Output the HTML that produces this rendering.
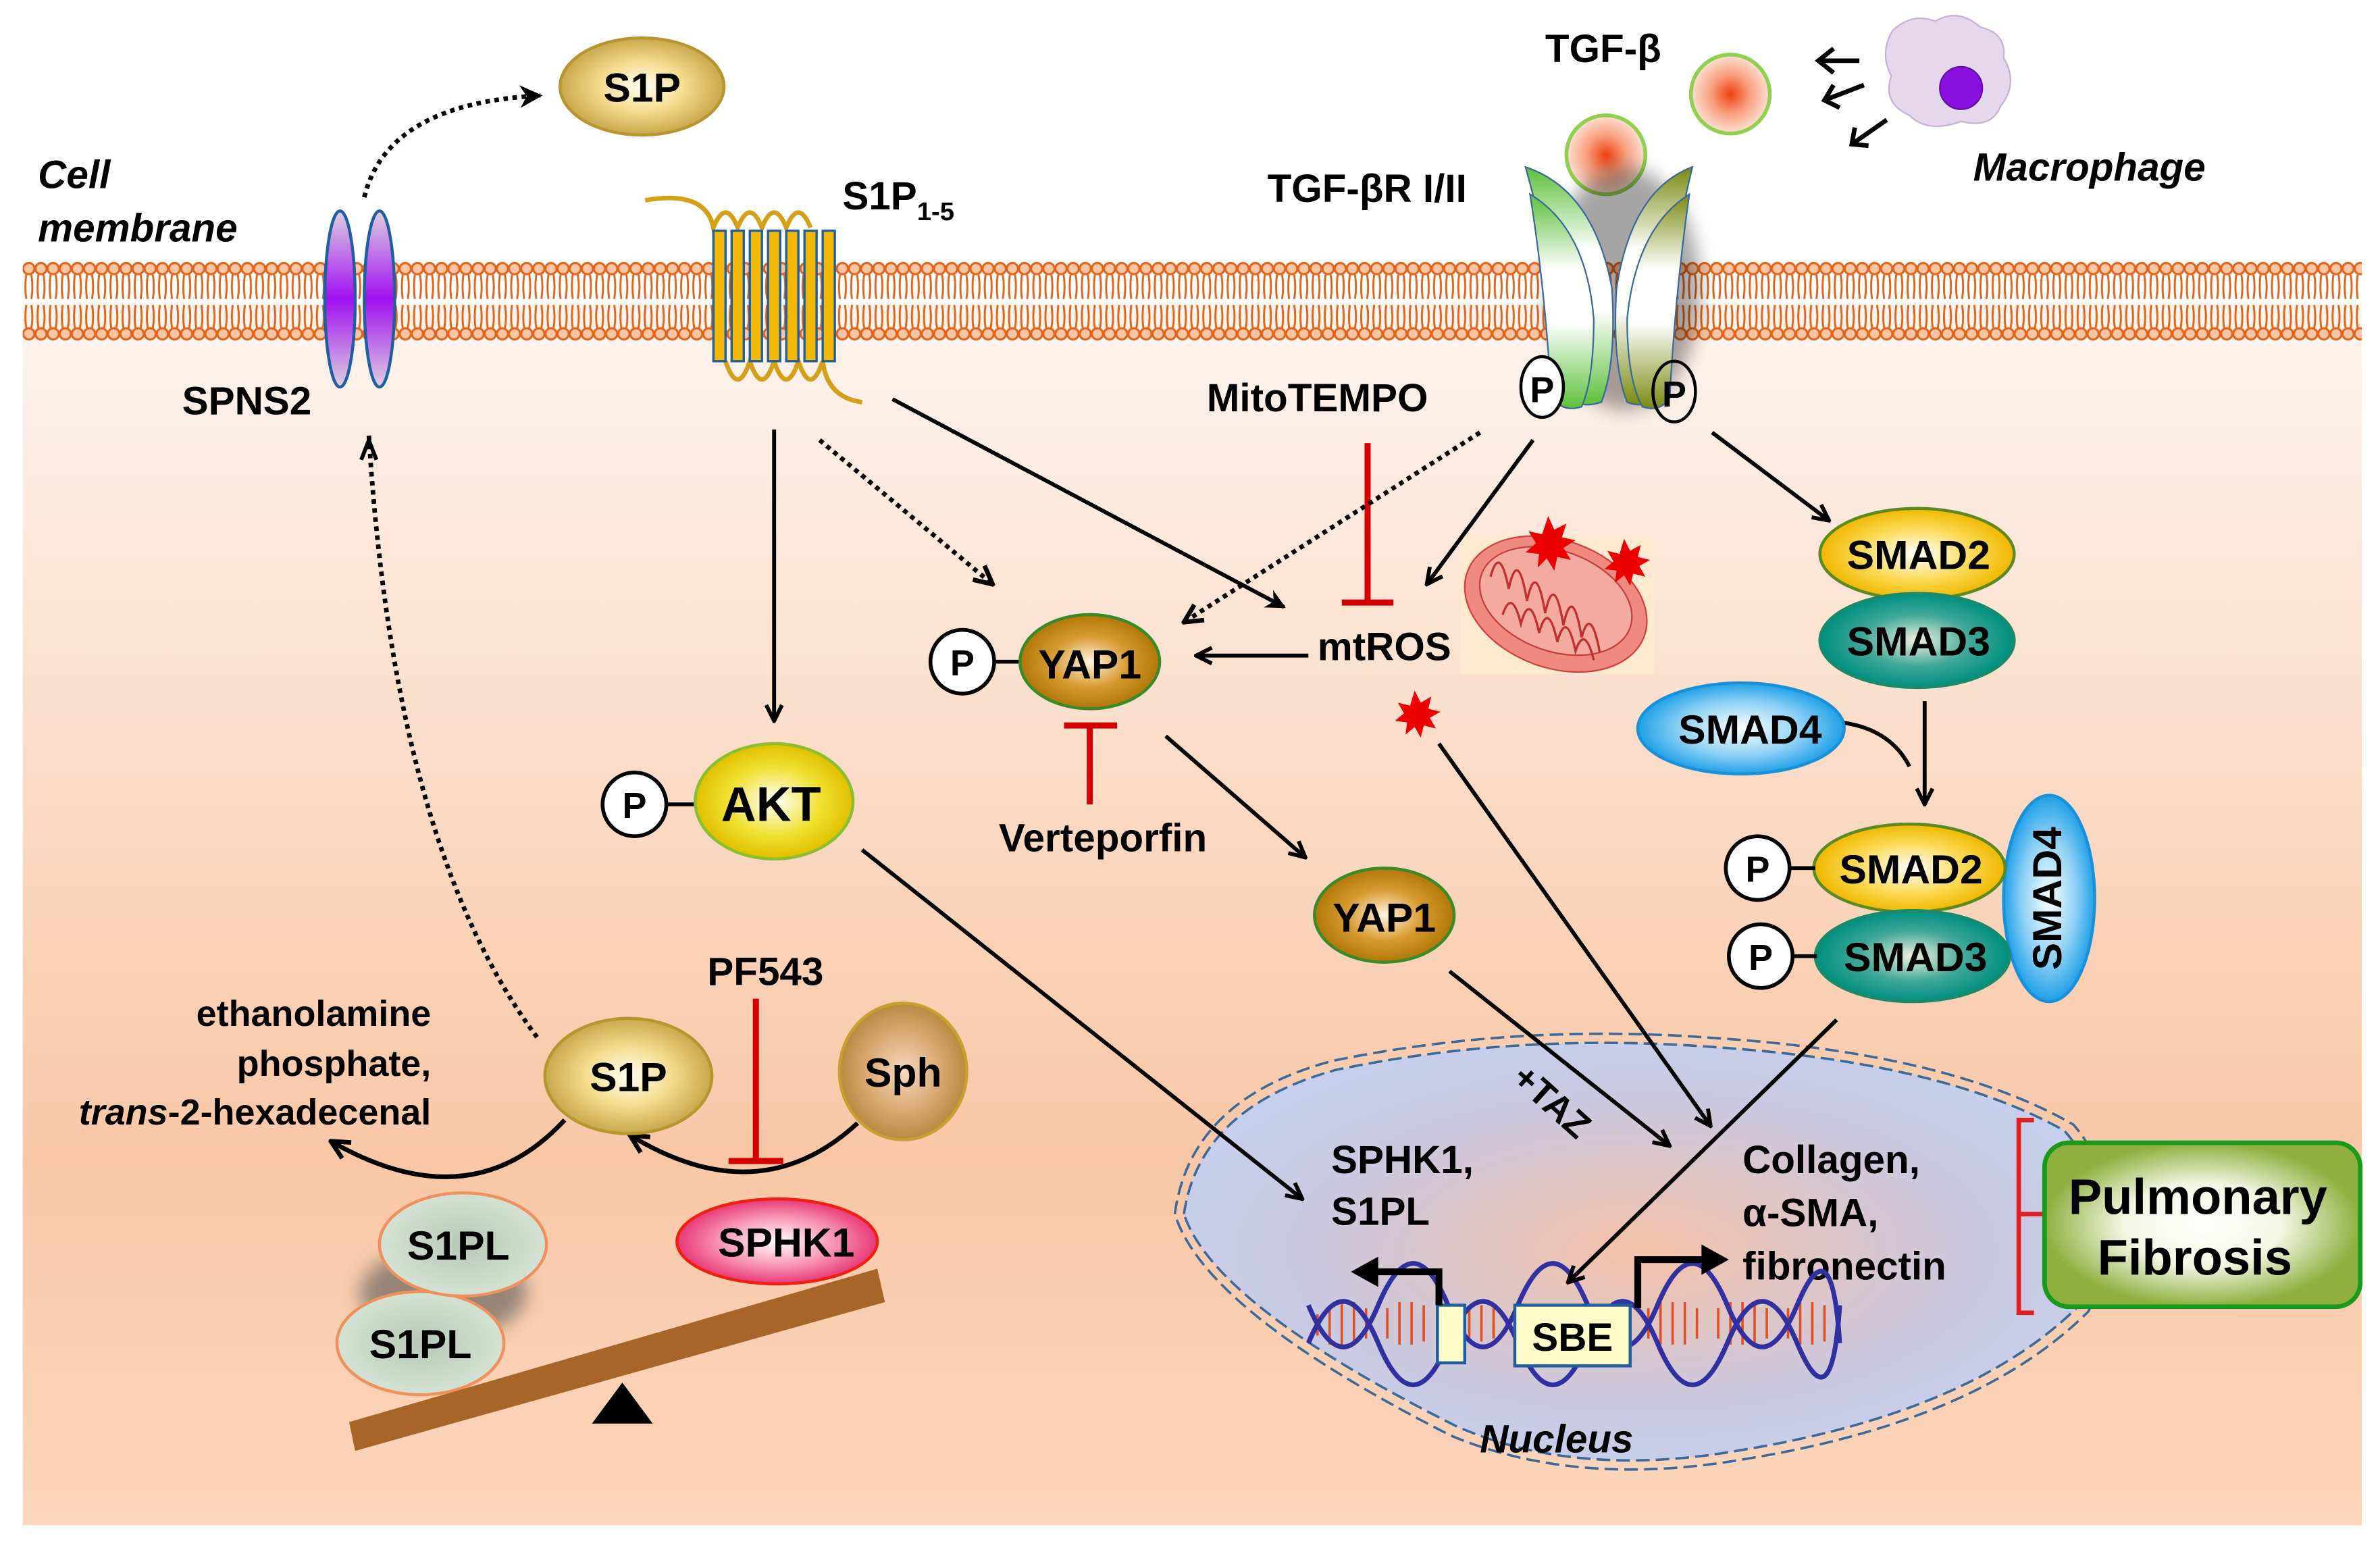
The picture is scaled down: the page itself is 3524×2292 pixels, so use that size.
<!DOCTYPE html>
<html><head><meta charset="utf-8"><style>
html,body{margin:0;padding:0;background:#fff;}
svg{display:block;}
text{font-family:"Liberation Sans",Arial,sans-serif;font-weight:bold;fill:#000;}
</style></head><body>
<svg width="3524" height="2292" viewBox="0 0 1568 1020" preserveAspectRatio="none" xmlns="http://www.w3.org/2000/svg">
<defs>
<linearGradient id="cyto" x1="0" y1="0" x2="0" y2="1">
<stop offset="0" stop-color="#fdf4ef"/><stop offset="0.7" stop-color="#f9c7a6"/><stop offset="1" stop-color="#fcd6bd"/>
</linearGradient>
<pattern id="lip" x="15" y="0" width="8" height="240" patternUnits="userSpaceOnUse">
<path d="M2.3 181 Q1.2 189 2.3 197 M5.7 181 Q7 189 5.7 197" stroke="#e0651c" stroke-width="1.3" fill="none"/>
<path d="M2.3 201 Q1.2 209 2.3 216 M5.7 201 Q7 209 5.7 216" stroke="#e0651c" stroke-width="1.3" fill="none"/>
<circle cx="4" cy="177" r="3.7" fill="#fbc4a2" stroke="#e0651c" stroke-width="1.4"/>
<circle cx="4" cy="220" r="3.7" fill="#fbc4a2" stroke="#e0651c" stroke-width="1.4"/>
</pattern>
<radialGradient id="gold"><stop offset="0" stop-color="#fffef5"/><stop offset="0.5" stop-color="#f5dd90"/><stop offset="1" stop-color="#c9a84c"/></radialGradient>
<radialGradient id="yap"><stop offset="0" stop-color="#fff3e0"/><stop offset="0.55" stop-color="#d89a30"/><stop offset="1" stop-color="#b07808"/></radialGradient>
<radialGradient id="akt"><stop offset="0" stop-color="#ffffff"/><stop offset="0.6" stop-color="#f0e030"/><stop offset="1" stop-color="#e0c000"/></radialGradient>
<radialGradient id="smad2"><stop offset="0" stop-color="#ffffff"/><stop offset="0.6" stop-color="#fbd850"/><stop offset="1" stop-color="#f0b800"/></radialGradient>
<radialGradient id="smad3"><stop offset="0" stop-color="#f0f0e0"/><stop offset="0.55" stop-color="#40a898"/><stop offset="1" stop-color="#008f80"/></radialGradient>
<radialGradient id="smad4"><stop offset="0" stop-color="#ffffff"/><stop offset="0.6" stop-color="#8cd0f5"/><stop offset="1" stop-color="#20a0e8"/></radialGradient>
<radialGradient id="sph"><stop offset="0" stop-color="#f8d8c0"/><stop offset="0.6" stop-color="#d8a870"/><stop offset="1" stop-color="#b88a40"/></radialGradient>
<radialGradient id="sphk"><stop offset="0" stop-color="#ffffff"/><stop offset="0.6" stop-color="#f790b0"/><stop offset="1" stop-color="#e83878"/></radialGradient>
<radialGradient id="s1pl"><stop offset="0" stop-color="#b8c8b8"/><stop offset="1" stop-color="#d4e2d4"/></radialGradient>
<radialGradient id="tgf"><stop offset="0" stop-color="#f04010"/><stop offset="0.5" stop-color="#f8a080"/><stop offset="1" stop-color="#fde0d4"/></radialGradient>
<radialGradient id="nuc" cx="0.5" cy="0.5" r="0.6"><stop offset="0" stop-color="#f5c2a8"/><stop offset="0.6" stop-color="#cbc8e0"/><stop offset="1" stop-color="#c4d2f2"/></radialGradient>
<radialGradient id="pf"><stop offset="0" stop-color="#ffffff"/><stop offset="0.5" stop-color="#f4f6e4"/><stop offset="1" stop-color="#8fb040"/></radialGradient>
<linearGradient id="spns" x1="0" y1="0" x2="0" y2="1"><stop offset="0" stop-color="#ddd0e0"/><stop offset="0.5" stop-color="#a010f0"/><stop offset="1" stop-color="#ddd0e0"/></linearGradient>
<linearGradient id="rg" x1="0" y1="0" x2="0" y2="1"><stop offset="0" stop-color="#5cbf3a"/><stop offset="0.35" stop-color="#ffffff"/><stop offset="0.6" stop-color="#ffffff"/><stop offset="1" stop-color="#5cbf3a"/></linearGradient>
<linearGradient id="ro" x1="0" y1="0" x2="0" y2="1"><stop offset="0" stop-color="#7a8a10"/><stop offset="0.35" stop-color="#ffffff"/><stop offset="0.6" stop-color="#ffffff"/><stop offset="1" stop-color="#7a8a10"/></linearGradient>
<marker id="ah" viewBox="0 0 10 10" refX="9" refY="5" markerWidth="5" markerHeight="5" orient="auto"><path d="M0 0 L10 5 L0 10 L3 5z" fill="#000"/></marker>
<marker id="ao" viewBox="0 0 10 10" refX="9" refY="5" markerWidth="5" markerHeight="5" orient="auto"><path d="M1 1 L9 5 L1 9" fill="none" stroke="#000" stroke-width="2"/></marker>
<filter id="blur"><feGaussianBlur stdDeviation="6"/></filter>
</defs>
<rect width="1568" height="1020" fill="#fff"/>
<rect x="15" y="200" width="1541" height="805" fill="url(#cyto)"/>
<rect x="15" y="165" width="1541" height="65" fill="url(#lip)"/>

<!-- Nucleus (behind arrows) -->
<path d="M780 800 Q790 730 880 705 Q1000 680 1130 690 Q1280 700 1360 745 Q1400 790 1370 860 Q1300 930 1150 955 Q1040 975 960 940 Q800 860 780 800z" fill="url(#nuc)" stroke="#3a6a9a" stroke-width="1.6" stroke-dasharray="9 4"/>
<path d="M774 800 Q784 724 878 699 Q1000 674 1130 684 Q1284 694 1366 741 Q1408 790 1376 864 Q1304 936 1152 961 Q1040 981 956 946 Q794 864 774 800z" fill="none" stroke="#3a6a9a" stroke-width="1.6" stroke-dasharray="9 4"/>

<!-- top S1P -->
<ellipse cx="423" cy="57" rx="54" ry="32" fill="url(#gold)" stroke="#b8962e" stroke-width="2"/>
<text x="423" y="67" font-size="27" text-anchor="middle">S1P</text>
<path d="M240 130 Q255 68 356 63" fill="none" stroke="#000" stroke-width="3" stroke-dasharray="3 3" marker-end="url(#ah)"/>
<text x="25" y="124" font-size="26" font-style="italic">Cell</text>
<text x="25" y="159" font-size="26" font-style="italic">membrane</text>

<!-- SPNS2 -->
<ellipse cx="224" cy="197" rx="10" ry="58" fill="url(#spns)" stroke="#1f5f9f" stroke-width="2"/>
<ellipse cx="250" cy="197" rx="10" ry="58" fill="url(#spns)" stroke="#1f5f9f" stroke-width="2"/>
<text x="120" y="273" font-size="26">SPNS2</text>

<!-- S1P receptor -->
<path d="M425 132 Q465 125 470 150 Q478 130 486 150 Q494 130 502 150 Q510 130 518 150 Q526 130 534 150" fill="none" stroke="#d4a017" stroke-width="3"/>
<path d="M478 238 Q486 262 494 238 Q502 262 510 238 Q518 262 526 238 Q534 262 542 238 Q545 262 568 265" fill="none" stroke="#d4a017" stroke-width="3"/>
<g fill="#f5b800" stroke="#1f5f9f" stroke-width="1.5">
<rect x="470" y="152" width="8" height="86"/><rect x="482" y="152" width="8" height="86"/><rect x="494" y="152" width="8" height="86"/><rect x="506" y="152" width="8" height="86"/><rect x="518" y="152" width="8" height="86"/><rect x="530" y="152" width="8" height="86"/><rect x="542" y="152" width="8" height="86"/>
</g>
<text x="555" y="138" font-size="26">S1P<tspan font-size="17" dy="7">1-5</tspan></text>

<!-- TGF -->
<text x="1018" y="41" font-size="26">TGF-β</text>
<circle cx="1140" cy="62" r="26" fill="url(#tgf)" stroke="#8fd14f" stroke-width="2.5"/>
<circle cx="1058" cy="102" r="26" fill="url(#tgf)" stroke="#8fd14f" stroke-width="2.5"/>
<path d="M1247 20 Q1260 8 1275 14 Q1290 5 1305 18 Q1322 22 1320 38 Q1330 55 1318 70 Q1312 85 1292 80 Q1270 88 1258 76 Q1240 68 1246 50 Q1238 35 1247 20z" fill="#e6d8ec" stroke="#c8b0d8"/>
<circle cx="1292" cy="58" r="14" fill="#8a10e0" stroke="#6010a0"/>
<g stroke="#000" stroke-width="3" fill="none">
<path d="M1225 40 L1198 40 M1208 32 L1198 40 L1208 48"/>
<path d="M1228 56 L1202 66 M1208 56 L1202 66 L1212 71"/>
<path d="M1243 79 L1220 95 M1222 84 L1220 95 L1231 96"/>
</g>
<text x="1300" y="119" font-size="26" font-style="italic">Macrophage</text>
<text x="835" y="133" font-size="26">TGF-βR I/II</text>
<!-- receptor -->
<ellipse cx="1070" cy="190" rx="50" ry="80" fill="#000" opacity="0.35" filter="url(#blur)"/>
<path d="M1005 110 Q1050 125 1062 190 Q1065 240 1055 265 Q1040 270 1030 260 Q1025 180 1005 110z" fill="url(#rg)" stroke="#3a6a9a"/>
<path d="M1008 128 Q1045 150 1050 210 Q1050 250 1042 268 Q1030 272 1022 262 Q1018 190 1008 128z" fill="url(#rg)" stroke="#3a6a9a"/>
<path d="M1115 110 Q1075 125 1065 190 Q1062 240 1072 265 Q1085 270 1092 260 Q1098 180 1115 110z" fill="url(#ro)" stroke="#3a6a9a"/>
<path d="M1113 128 Q1078 150 1072 210 Q1072 250 1082 268 Q1094 272 1100 262 Q1104 190 1113 128z" fill="url(#ro)" stroke="#3a6a9a"/>
<ellipse cx="1016" cy="255" rx="14" ry="20" fill="#fff" stroke="#000" stroke-width="2"/>
<text x="1016" y="265" font-size="24" text-anchor="middle">P</text>
<ellipse cx="1103" cy="258" rx="14" ry="20" fill="none" stroke="#000" stroke-width="2"/>
<text x="1103" y="268" font-size="24" text-anchor="middle">P</text>

<!-- MitoTEMPO / mtROS -->
<text x="795" y="271" font-size="26">MitoTEMPO</text>
<path d="M901 292 L901 397 M884 397 L918 397" stroke="#d40000" stroke-width="4" fill="none"/>
<text x="868" y="435" font-size="26">mtROS</text>
<rect x="962" y="352" width="128" height="92" fill="#fde8d0"/>
<ellipse cx="1025" cy="398" rx="62" ry="42" transform="rotate(20 1025 398)" fill="#f08a80" stroke="#d04040"/>
<ellipse cx="1025" cy="396" rx="52" ry="33" transform="rotate(20 1025 396)" fill="#f4aaa0" stroke="#c04040"/>
<path d="M982 380 q6 -22 12 8 q6 -28 12 8 q6 -28 12 8 q6 -28 12 8 q6 -28 12 8 q6 -22 12 10 M990 405 q6 -18 12 6 q6 -22 12 6 q6 -22 12 6 q6 -22 12 6 q6 -18 12 6" fill="none" stroke="#c03030" stroke-width="1.5"/>
<g fill="#ee0000">
<path d="M1020 340 l4 9 l8 -4 l-3 9 l9 2 l-8 5 l5 8 l-9 -2 l-2 9 l-5 -8 l-6 6 l1 -9 l-9 -1 l7 -6 l-5 -8 l9 2z"/>
<path d="M1070 355 l4 8 l7 -4 l-2 8 l8 2 l-7 4 l4 7 l-8 -2 l-2 8 l-4 -7 l-6 5 l1 -8 l-8 -1 l6 -5 l-4 -7 l8 2z"/>
<path d="M932 455 l4 8 l7 -4 l-2 8 l8 2 l-7 4 l4 7 l-8 -2 l-2 8 l-4 -7 l-6 5 l1 -8 l-8 -1 l6 -5 l-4 -7 l8 2z"/>
</g>

<!-- nucleus content -->
<text x="877" y="773" font-size="26">SPHK1,</text>
<text x="877" y="807" font-size="26">S1PL</text>
<text x="1148" y="773" font-size="26">Collagen,</text>
<text x="1148" y="808" font-size="26">α-SMA,</text>
<text x="1148" y="843" font-size="26">fibronectin</text>
<text x="975" y="957" font-size="26" font-style="italic">Nucleus</text>
<g stroke="#e05020" stroke-width="1.6">
<path d="M868 866 v14 M876 860 v26 M884 858 v28 M892 858 v28 M900 862 v20 M914 862 v20 M922 858 v28 M930 858 v28 M938 860 v24 M968 862 v20 M976 860 v24 M984 862 v20 M1086 862 v20 M1094 858 v28 M1102 858 v28 M1110 858 v28 M1118 862 v20 M1132 862 v20 M1140 858 v28 M1148 858 v28 M1156 858 v28 M1164 862 v20 M1178 862 v20 M1186 858 v28 M1194 858 v28 M1202 860 v24"/>
</g>
<g fill="none" stroke-width="3.2" stroke="#3030a0">
<path d="M862 885 Q885 830 908 885 T954 885 T1000 885 T1046 885 T1092 885 T1138 885 T1184 885 T1212 860"/>
<path d="M862 860 Q885 915 908 860 T954 860 T1000 860 T1046 860 T1092 860 T1138 860 T1184 860 T1212 885"/>
</g>
<rect x="947" y="860" width="18" height="38" fill="#fdfbc8" stroke="#1f5f9f" stroke-width="2"/>
<rect x="998" y="860" width="76" height="40" fill="#fdfbc8" stroke="#1f5f9f" stroke-width="2"/>
<text x="1036" y="890" font-size="26" text-anchor="middle">SBE</text>
<path d="M948 860 L948 838 L905 838" stroke="#000" stroke-width="4.5" fill="none"/>
<path d="M890 838 L908 828 L908 848z" fill="#000"/>
<path d="M1079 862 L1079 830 L1124 830" stroke="#000" stroke-width="4.5" fill="none"/>
<path d="M1139 830 L1121 820 L1121 840z" fill="#000"/>

<!-- arrows -->
<g stroke="#000" stroke-width="2.6" fill="none">
<path d="M588 263 L846 400" marker-end="url(#ah)"/>
<path d="M540 290 L654 385" stroke-dasharray="3 3" stroke-width="3" marker-end="url(#ao)"/>
<path d="M975 285 L780 410" stroke-dasharray="3 3" stroke-width="3" marker-end="url(#ao)"/>
<path d="M1010 290 L940 385" marker-end="url(#ao)"/>
<path d="M1128 285 L1205 343" marker-end="url(#ao)"/>
<path d="M862 432 L788 432" marker-end="url(#ao)"/>
<path d="M510 283 L510 475" marker-end="url(#ao)"/>
<path d="M768 485 L860 565" marker-end="url(#ao)"/>
<path d="M955 640 L1100 755" marker-end="url(#ao)"/>
<path d="M948 490 L1127 742" marker-end="url(#ao)"/>
<path d="M568 560 L858 790" marker-end="url(#ao)"/>
<path d="M1210 672 L1033 845" marker-end="url(#ao)"/>
<path d="M1268 462 L1268 530" marker-end="url(#ao)"/>
<path d="M1213 476 Q1245 480 1258 505"/>
<path d="M243 287 Q260 560 355 685" stroke-dasharray="3 3" stroke-width="3"/>
<path d="M243 290 L238 303 M243 290 L248 303" />
<path d="M565 740 Q500 800 415 748" stroke-width="3" marker-end="url(#ao)"/>
<path d="M372 738 Q310 805 218 752" stroke-width="3" marker-end="url(#ao)"/>
</g>

<!-- YAP -->
<line x1="656" y1="436" x2="675" y2="436" stroke="#000" stroke-width="2.5"/>
<circle cx="634" cy="436" r="21" fill="#fff" stroke="#000" stroke-width="2.5"/>
<text x="634" y="445" font-size="24" text-anchor="middle">P</text>
<ellipse cx="718" cy="436" rx="46" ry="31" fill="url(#yap)" stroke="#3a8a2a" stroke-width="2"/>
<text x="718" y="447" font-size="27" text-anchor="middle">YAP1</text>
<path d="M718 478 L718 530 M701 478 L736 478" stroke="#d40000" stroke-width="4" fill="none"/>
<text x="658" y="561" font-size="26">Verteporfin</text>
<ellipse cx="912" cy="603" rx="46" ry="31" fill="url(#yap)" stroke="#3a8a2a" stroke-width="2"/>
<text x="912" y="614" font-size="27" text-anchor="middle">YAP1</text>
<text x="995" y="712" font-size="24" transform="rotate(42 995 712)">+TAZ</text>

<!-- AKT -->
<line x1="440" y1="530" x2="460" y2="530" stroke="#000" stroke-width="2.5"/>
<circle cx="418" cy="530" r="21" fill="#fff" stroke="#000" stroke-width="2.5"/>
<text x="418" y="539" font-size="24" text-anchor="middle">P</text>
<ellipse cx="510" cy="528" rx="52" ry="38" fill="url(#akt)" stroke="#8ac030" stroke-width="2"/>
<text x="508" y="541" font-size="32" text-anchor="middle">AKT</text>

<!-- SMADs -->
<ellipse cx="1263" cy="365" rx="64" ry="30" fill="url(#smad2)" stroke="#5a8a20" stroke-width="2"/>
<text x="1264" y="375" font-size="27" text-anchor="middle">SMAD2</text>
<ellipse cx="1263" cy="422" rx="64" ry="31" fill="url(#smad3)" stroke="#1a8a6a" stroke-width="2"/>
<text x="1264" y="432" font-size="27" text-anchor="middle">SMAD3</text>
<ellipse cx="1147" cy="480" rx="68" ry="30" fill="url(#smad4)" stroke="#1a90d8" stroke-width="2"/>
<text x="1153" y="490" font-size="27" text-anchor="middle">SMAD4</text>
<ellipse cx="1350" cy="592" rx="30" ry="68" fill="url(#smad4)" stroke="#1a90d8" stroke-width="2"/>
<text x="1358" y="592" font-size="27" text-anchor="middle" transform="rotate(-90 1358 592)">SMAD4</text>
<ellipse cx="1258" cy="572" rx="63" ry="29" fill="url(#smad2)" stroke="#5a8a20" stroke-width="2"/>
<text x="1259" y="582" font-size="27" text-anchor="middle">SMAD2</text>
<ellipse cx="1260" cy="630" rx="64" ry="30" fill="url(#smad3)" stroke="#1a8a6a" stroke-width="2"/>
<text x="1262" y="640" font-size="27" text-anchor="middle">SMAD3</text>
<line x1="1180" y1="572" x2="1196" y2="572" stroke="#000" stroke-width="2.5"/>
<line x1="1182" y1="630" x2="1197" y2="630" stroke="#000" stroke-width="2.5"/>
<circle cx="1158" cy="572" r="21" fill="#fff" stroke="#000" stroke-width="2.5"/>
<text x="1158" y="581" font-size="24" text-anchor="middle">P</text>
<circle cx="1160" cy="630" r="21" fill="#fff" stroke="#000" stroke-width="2.5"/>
<text x="1160" y="639" font-size="24" text-anchor="middle">P</text>

<path d="M1340 738 L1330 738 L1330 865 L1340 865 M1330 800 L1350 800" stroke="#e02020" stroke-width="3" fill="none"/>
<rect x="1347" y="753" width="208" height="108" rx="16" fill="url(#pf)" stroke="#1a9a1a" stroke-width="3"/>
<text x="1448" y="800" font-size="33" text-anchor="middle">Pulmonary</text>
<text x="1446" y="840" font-size="33" text-anchor="middle">Fibrosis</text>

<!-- bottom left -->
<text x="284" y="676" font-size="24" text-anchor="end">ethanolamine</text>
<text x="284" y="709" font-size="24" text-anchor="end">phosphate,</text>
<text x="284" y="741" font-size="24" text-anchor="end"><tspan font-style="italic">trans</tspan>-2-hexadecenal</text>
<ellipse cx="414" cy="709" rx="55" ry="38" fill="url(#gold)" stroke="#b8962e" stroke-width="2"/>
<text x="414" y="719" font-size="27" text-anchor="middle">S1P</text>
<ellipse cx="595" cy="706" rx="42" ry="45" fill="url(#sph)" stroke="#c8a030" stroke-width="2"/>
<text x="595" y="716" font-size="27" text-anchor="middle">Sph</text>
<text x="466" y="649" font-size="26">PF543</text>
<path d="M498 658 L498 765 M480 765 L516 765" stroke="#d40000" stroke-width="4" fill="none"/>
<ellipse cx="512" cy="818" rx="66" ry="28" fill="url(#sphk)" stroke="#f02010" stroke-width="2"/>
<text x="518" y="828" font-size="27" text-anchor="middle">SPHK1</text>
<ellipse cx="292" cy="852" rx="55" ry="30" fill="#555" opacity="0.6" filter="url(#blur)"/>
<ellipse cx="277" cy="885" rx="55" ry="34" fill="url(#s1pl)" stroke="#f0905a" stroke-width="2"/>
<text x="277" y="895" font-size="27" text-anchor="middle">S1PL</text>
<ellipse cx="305" cy="820" rx="55" ry="34" fill="url(#s1pl)" stroke="#f0905a" stroke-width="2"/>
<text x="302" y="830" font-size="27" text-anchor="middle">S1PL</text>
<path d="M230 937 L578 836 L583 858 L234 956z" fill="#a8652a"/>
<path d="M390 938 L410 911 L430 938z" fill="#000"/>
</svg>
</body></html>
